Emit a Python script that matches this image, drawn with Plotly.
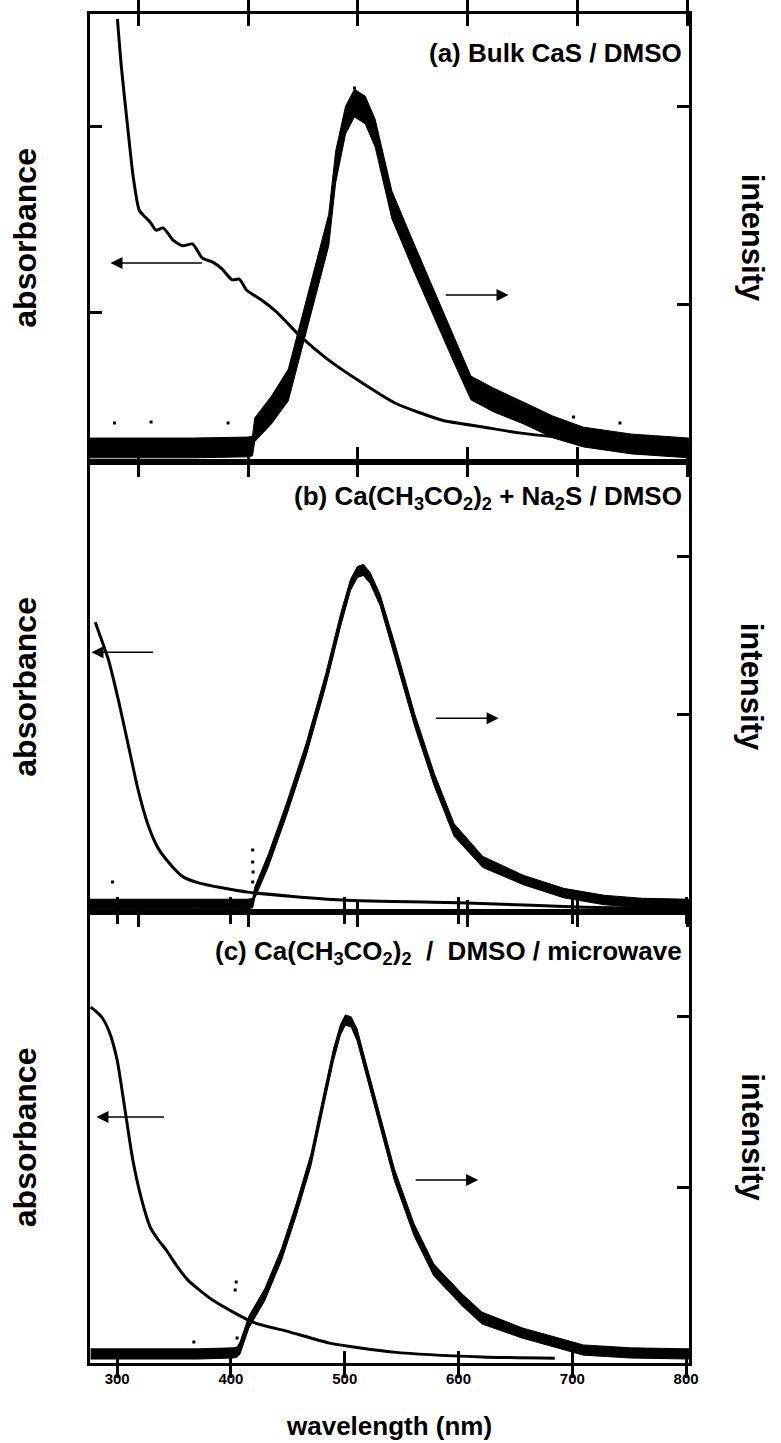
import plotly.graph_objects as go

# ======================= data (arbitrary units) =======================
# ---- panel (a): bulk CaS / DMSO ----
abs_a_wl = [281.1, 284.7, 291.0, 295.5, 300.9, 306.3, 310.8, 316.2, 322.5, 327.0, 331.4, 340.4, 349.4,
            358.4, 367.4, 376.0, 385.4, 392.0, 398.8, 412.3, 425.8, 448.2, 470.7, 499.5, 533.6, 576.7,
            613.6, 646.8, 713.3, 801.0]
abs_a_val = [1.287, 1.158, 0.981, 0.863, 0.775, 0.756, 0.743, 0.721, 0.727, 0.713, 0.695, 0.679, 0.684,
             0.646, 0.636, 0.618, 0.588, 0.590, 0.560, 0.534, 0.502, 0.435, 0.379, 0.320, 0.258, 0.212,
             0.194, 0.178, 0.159, 0.146]
em_a_wl = [256, 300, 350, 400, 404, 406, 421.3, 436.6, 452.7, 461.7, 473.4, 479.7, 488.7, 496.8, 506.6,
           515.6, 530.9, 551.6, 569.5, 587.5, 602.8, 623.5, 650.4, 677.4, 705.2, 749, 801]
em_a_mid = [0.273, 0.273, 0.273, 0.278, 0.283, 0.364, 0.465, 0.591, 0.934, 1.126, 1.374, 1.692, 1.929,
            2.015, 1.980, 1.864, 1.500, 1.227, 1.000, 0.768, 0.576, 0.515, 0.450, 0.379, 0.328, 0.293,
            0.273]
em_a_spread = [0.05, 0.05, 0.05, 0.05, 0.05, 0.06, 0.07, 0.08, 0.08, 0.08, 0.08, 0.08, 0.07, 0.07, 0.07,
               0.07, 0.07, 0.07, 0.07, 0.065, 0.06, 0.06, 0.055, 0.055, 0.05, 0.05, 0.05]
out_a_wl = [496.8, 278.4, 311.7, 381.8, 696.2, 738.4]
out_a_val = [2.091, 0.399, 0.404, 0.399, 0.429, 0.399]

# ---- panel (b): Ca(CH3CO2)2 + Na2S / DMSO ----
abs_b_wl = [261.0, 264.1, 273.0, 282.0, 291.0, 300.0, 309.0, 318.0, 330.5, 341.3, 355.7, 399.7, 485.1,
            599.2, 705.2, 801.0]
abs_b_val = [0.773, 0.747, 0.672, 0.565, 0.445, 0.325, 0.232, 0.171, 0.123, 0.093, 0.077, 0.053, 0.032,
             0.024, 0.013, 0.008]
em_b_wl = [256, 300, 350, 400, 404.2, 406, 418.6, 434.8, 452.7, 470.7, 484.2, 493.2, 499.5, 504.9, 511.1,
           520.1, 533.6, 551.6, 569.5, 587.5, 613.6, 650.4, 687.2, 724.1, 758.2, 801]
em_b_mid = [-0.196, -0.196, -0.196, -0.196, -0.190, -0.127, 0.082, 0.399, 0.778, 1.222, 1.601, 1.823,
            1.905, 1.918, 1.867, 1.728, 1.411, 0.968, 0.589, 0.272, 0.070, -0.044, -0.127, -0.171,
            -0.190, -0.196]
em_b_spread = [0.03, 0.03, 0.03, 0.03, 0.03, 0.035, 0.04, 0.04, 0.04, 0.04, 0.04, 0.035, 0.035, 0.035,
               0.035, 0.035, 0.04, 0.04, 0.04, 0.04, 0.035, 0.03, 0.03, 0.03, 0.03, 0.03]
out_b_wl = [404.2, 404.2, 404.6, 404.2, 276.6]
out_b_val = [0.146, 0.070, 0.006, -0.057, -0.057]

# ---- panel (c): Ca(CH3CO2)2 / DMSO / microwave ----
abs_c_wl = [276.7, 281.0, 287.0, 293.1, 300.0, 306.9, 313.8, 321.6, 329.4, 336.3, 343.2, 351.9, 362.2,
            383.8, 419.3, 451.3, 486.7, 542.9, 620.7, 684.6]
abs_c_val = [0.949, 0.939, 0.920, 0.883, 0.808, 0.675, 0.541, 0.435, 0.360, 0.328, 0.301, 0.261, 0.221,
             0.168, 0.109, 0.083, 0.053, 0.029, 0.016, 0.013]
em_c_wl = [276.7, 327.7, 370.9, 402.0, 405.4, 408.0, 415.8, 429.6, 444.3, 457.3, 470.3, 481.5, 490.1,
           496.2, 500.5, 505.7, 510.9, 517.8, 530.8, 543.7, 561.0, 578.3, 603.3, 620.6, 656.1, 709.7,
           751.2, 802.5]
em_c_mid = [0.018, 0.018, 0.018, 0.024, 0.029, 0.053, 0.206, 0.365, 0.600, 0.865, 1.159, 1.512, 1.777,
            1.924, 1.982, 1.971, 1.894, 1.718, 1.394, 1.071, 0.747, 0.512, 0.335, 0.229, 0.141, 0.041,
            0.024, 0.018]
em_c_spread = [0.03, 0.03, 0.03, 0.03, 0.03, 0.035, 0.035, 0.035, 0.035, 0.035, 0.035, 0.035, 0.035,
               0.03, 0.03, 0.03, 0.035, 0.035, 0.035, 0.035, 0.035, 0.035, 0.035, 0.035, 0.03, 0.03,
               0.03, 0.03]
out_c_wl = [403.7, 404.6, 405.4, 367.4]
out_c_val = [0.394, 0.441, 0.112, 0.088]

xticks = [300, 400, 500, 600, 700, 800]
xtick_text = ["300", "400", "500", "600", "700", "800"]
titles = ["(a) Bulk CaS / DMSO",
          "(b) Ca(CH<sub>3</sub>CO<sub>2</sub>)<sub>2</sub> + Na<sub>2</sub>S / DMSO",
          "(c) Ca(CH<sub>3</sub>CO<sub>2</sub>)<sub>2</sub>  /  DMSO / microwave"]

# arrows: (panel, x_tail, x_head, y) in wavelength / left-axis units
arrow_panel = [0, 0, 1, 1, 2, 2]
arrow_tail = [359.3, 578.5, 315.0, 569.5, 342.4, 561.0]
arrow_head = [274.8, 637.0, 257.5, 628.0, 281.8, 617.2]
arrow_y = [0.633, 0.547, 0.693, 0.517, 0.656, 0.488]

# ======================= layout geometry =======================
W, H = 781, 1443
XL, XR = 91, 698
rows = [(14, 462), (462, 912), (912, 1363)]
xranges = [[256, 801.3], [256, 801.3], [276, 802.6]]
yl_ranges = [[0.1, 1.3], [0.0, 1.2], [0.0, 1.2027]]
yl_ticks = [[0.5, 1.0], [], []]
yr_ranges = [[0.202, 2.465], [-0.2468, 2.601], [-0.0353, 2.6176]]
yr_ticks = [[1, 2], [1, 2], [1, 2]]

FONT = "Liberation Sans, Arial, Helvetica, sans-serif"

fig = go.Figure()
datasets = [
    (abs_a_wl, abs_a_val, em_a_wl, em_a_mid, em_a_spread, out_a_wl, out_a_val),
    (abs_b_wl, abs_b_val, em_b_wl, em_b_mid, em_b_spread, out_b_wl, out_b_val),
    (abs_c_wl, abs_c_val, em_c_wl, em_c_mid, em_c_spread, out_c_wl, out_c_val),
]

layout = dict(width=W, height=H, margin=dict(l=0, r=0, t=0, b=0), paper_bgcolor="white",
              plot_bgcolor="rgba(0,0,0,0)", showlegend=False,
              font=dict(family=FONT, color="black"))
annotations = []
axis_common = dict(ticks="inside", ticklen=12, tickwidth=2.5, tickcolor="black", showline=True,
                   linewidth=3, linecolor="black", showgrid=False, zeroline=False)

for i, (top, bot) in enumerate(rows):
    n = i + 1
    xa = "x" if n == 1 else f"x{n}"
    yl_idx, yr_idx = 2 * i + 1, 2 * i + 2
    yl = "y" if yl_idx == 1 else f"y{yl_idx}"
    yr = f"y{yr_idx}"
    dom_y = [1 - bot / H, 1 - top / H]
    dom_x = [XL / W, XR / W]
    layout["xaxis" if n == 1 else f"xaxis{n}"] = dict(
        domain=dom_x, anchor=yl, range=xranges[i], tickvals=xticks,
        ticktext=[f"<b>{t}</b>" for t in xtick_text], mirror="allticks",
        showticklabels=(n == 3), tickfont=dict(size=15, family=FONT, color="black"),
        **axis_common)
    layout["yaxis" if yl_idx == 1 else f"yaxis{yl_idx}"] = dict(
        domain=dom_y, anchor=xa, range=yl_ranges[i], tickvals=yl_ticks[i], showticklabels=False,
        **axis_common)
    layout[f"yaxis{yr_idx}"] = dict(
        domain=dom_y, anchor=xa, overlaying=yl, side="right", range=yr_ranges[i], tickvals=yr_ticks[i],
        showticklabels=False, **axis_common)

    awl, aval, ewl, emid, esp, owl, oval = datasets[i]
    hi = [m + s for m, s in zip(emid, esp)]
    lo = [m - s for m, s in zip(emid, esp)]
    fig.add_trace(go.Scatter(x=list(ewl) + list(ewl[::-1]), y=hi + lo[::-1], fill="toself",
                             fillcolor="black", mode="lines", line=dict(width=1, color="black"),
                             xaxis=xa, yaxis=yr, hoverinfo="skip", showlegend=False))
    fig.add_trace(go.Scatter(x=owl, y=oval, mode="markers", marker=dict(symbol="square", size=3,
                             color="black"), xaxis=xa, yaxis=yr, showlegend=False))
    fig.add_trace(go.Scatter(x=awl, y=aval, mode="lines",
                             line=dict(color="black", width=3, shape="spline", smoothing=0.6),
                             xaxis=xa, yaxis=yl, showlegend=False))

    ymid = 1 - (top + bot) / 2 / H
    annotations.append(dict(text="<b>absorbance</b>", x=25 / W, y=ymid, xref="paper", yref="paper",
                            xanchor="center", yanchor="middle", textangle=-90, showarrow=False,
                            font=dict(size=32, family=FONT)))
    annotations.append(dict(text="<b>intensity</b>", x=762 / W, y=ymid, xref="paper", yref="paper",
                            xanchor="center", yanchor="middle", textangle=90, showarrow=False,
                            font=dict(size=31, family=FONT)))

title_y = [53, 497, 952]
title_x = [698, 693, 693]
for i, t in enumerate(titles):
    ann = dict(text=f"<b>{t}</b>", x=title_x[i] / W, y=1 - title_y[i] / H, xref="paper", yref="paper",
               xanchor="right", yanchor="middle", showarrow=False, font=dict(size=26, family=FONT))
    if i == 0:
        ann.update(bgcolor="white", borderpad=6)
    annotations.append(ann)

for p, xt, xh, yv in zip(arrow_panel, arrow_tail, arrow_head, arrow_y):
    xa = "x" if p == 0 else f"x{p + 1}"
    ya = "y" if p == 0 else f"y{2 * p + 1}"
    annotations.append(dict(x=xh, y=yv, ax=xt, ay=yv, xref=xa, yref=ya, axref=xa, ayref=ya,
                            showarrow=True, arrowhead=2, arrowsize=1.6, arrowwidth=1.5,
                            arrowcolor="black", text=""))

annotations.append(dict(text="<b>wavelength (nm)</b>", x=(XL + XR) / 2 / W, y=1 - 1426 / H,
                        xref="paper", yref="paper", xanchor="center", yanchor="middle",
                        showarrow=False, font=dict(size=26, family=FONT)))
layout["annotations"] = annotations
fig.update_layout(**layout)
fig.write_html("out.html")
